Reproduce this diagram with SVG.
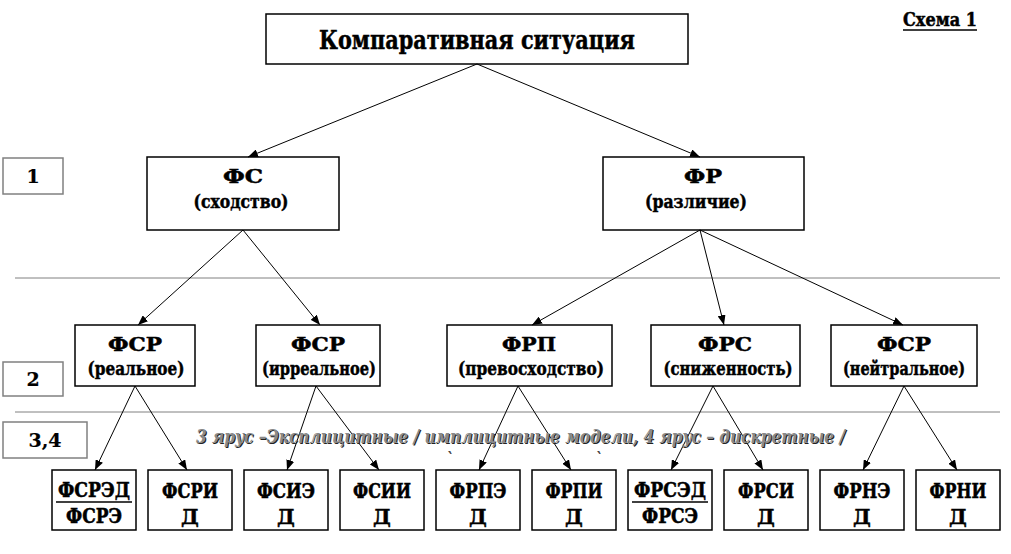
<svg xmlns="http://www.w3.org/2000/svg" width="1011" height="554" viewBox="0 0 1011 554">
<defs>
<marker id="arr" markerUnits="userSpaceOnUse" markerWidth="10" markerHeight="8" refX="10" refY="4" orient="auto">
<path d="M0,0 L10,4 L0,8 z" fill="#000"/>
</marker>
<style>
.box{fill:#fff;stroke:#000;stroke-width:1.5}
.lbl{fill:#fff;stroke:#808080;stroke-width:1.5}
.sep{stroke:#808080;stroke-width:1}
.t{font-family:'DejaVu Serif','Liberation Serif',serif;font-weight:bold;fill:#000;stroke:#000;stroke-width:0.5;text-anchor:middle}
.t18{font-size:19px}
.t20{font-size:20px}
.con line{stroke:#000;stroke-width:1;marker-end:url(#arr)}
.it{font-family:'DejaVu Serif','Liberation Serif',serif;font-weight:bold;font-style:italic;font-size:18px}
</style>
</defs>
<rect width="1011" height="554" fill="#fff"/>
<line class="sep" x1="15" y1="278" x2="1000" y2="278"/>
<line class="sep" x1="15" y1="412" x2="1000" y2="412"/>

<g id="scheme-label">
<text x="940" y="26" class="t" style="font-size:18px" textLength="74" lengthAdjust="spacingAndGlyphs">Схема 1</text>
<line x1="903" y1="30" x2="977" y2="30" stroke="#000" stroke-width="1.5"/>
</g>

<g id="tier1"><rect class="lbl" x="3" y="158" width="60" height="36"/><text x="33" y="183" class="t t18" style="stroke-width:0.2">1</text></g>
<g id="tier2"><rect class="lbl" x="3" y="362" width="60" height="34"/><text x="33" y="386" class="t t18" style="stroke-width:0.2">2</text></g>
<g id="tier34"><rect class="lbl" x="3" y="422" width="84" height="36"/><text x="45" y="447" class="t t18" style="stroke-width:0.2">3,4</text></g>

<g id="root"><rect class="box" x="266" y="14" width="422" height="50"/><text x="477" y="49" class="t" style="font-size:26px" textLength="316" lengthAdjust="spacingAndGlyphs">Компаративная ситуация</text></g>

<g id="fs"><rect class="box" x="147" y="157" width="192" height="73"/><text x="243" y="183" class="t t18" textLength="40" lengthAdjust="spacingAndGlyphs">ФС</text><text x="241" y="208" class="t t18" textLength="95" lengthAdjust="spacingAndGlyphs">(сходство)</text></g>
<g id="fr"><rect class="box" x="603" y="157" width="201" height="73"/><text x="703" y="183" class="t t18" textLength="38" lengthAdjust="spacingAndGlyphs">ФР</text><text x="696" y="208" class="t t18" textLength="102" lengthAdjust="spacingAndGlyphs">(различие)</text></g>

<g id="fsr-real"><rect class="box" x="75" y="325" width="120" height="61"/><text x="135" y="351" class="t t18" textLength="54" lengthAdjust="spacingAndGlyphs">ФСР</text><text x="136" y="375" class="t t18" textLength="97" lengthAdjust="spacingAndGlyphs">(реальное)</text></g>
<g id="fsr-irreal"><rect class="box" x="256" y="325" width="124" height="61"/><text x="318" y="351" class="t t18" textLength="54" lengthAdjust="spacingAndGlyphs">ФСР</text><text x="319" y="375" class="t t18" textLength="114" lengthAdjust="spacingAndGlyphs">(ирреальное)</text></g>
<g id="frp"><rect class="box" x="447" y="325" width="165" height="61"/><text x="529" y="351" class="t t18" textLength="54" lengthAdjust="spacingAndGlyphs">ФРП</text><text x="531" y="375" class="t t18" textLength="146" lengthAdjust="spacingAndGlyphs">(превосходство)</text></g>
<g id="frs"><rect class="box" x="651" y="325" width="149" height="61"/><text x="725" y="351" class="t t18" textLength="54" lengthAdjust="spacingAndGlyphs">ФРС</text><text x="728" y="375" class="t t18" textLength="129" lengthAdjust="spacingAndGlyphs">(сниженность)</text></g>
<g id="fsr-neutral"><rect class="box" x="831" y="325" width="146" height="61"/><text x="904" y="351" class="t t18" textLength="54" lengthAdjust="spacingAndGlyphs">ФСР</text><text x="904" y="375" class="t t18" textLength="122" lengthAdjust="spacingAndGlyphs">(нейтральное)</text></g>

<g id="fsred"><rect class="box" x="52" y="470" width="84" height="60"/><text x="94" y="497" class="t t20" textLength="72" lengthAdjust="spacingAndGlyphs">ФСРЭД</text><line x1="56" y1="502" x2="132" y2="502" stroke="#000" stroke-width="1.5"/><text x="94" y="523" class="t t20" textLength="56" lengthAdjust="spacingAndGlyphs">ФСРЭ</text></g>
<g id="fsrid"><rect class="box" x="148" y="470" width="84" height="60"/><text x="190" y="498" class="t t20" textLength="56" lengthAdjust="spacingAndGlyphs">ФСРИ</text><text x="190" y="524" class="t t20">Д</text></g>
<g id="fsied"><rect class="box" x="244" y="470" width="84" height="60"/><text x="286" y="498" class="t t20" textLength="58" lengthAdjust="spacingAndGlyphs">ФСИЭ</text><text x="286" y="524" class="t t20">Д</text></g>
<g id="fsiid"><rect class="box" x="340" y="470" width="84" height="60"/><text x="382" y="498" class="t t20" textLength="58" lengthAdjust="spacingAndGlyphs">ФСИИ</text><text x="382" y="524" class="t t20">Д</text></g>
<g id="frped"><rect class="box" x="436" y="470" width="84" height="60"/><text x="478" y="498" class="t t20" textLength="57" lengthAdjust="spacingAndGlyphs">ФРПЭ</text><text x="478" y="524" class="t t20">Д</text></g>
<g id="frpid"><rect class="box" x="532" y="470" width="84" height="60"/><text x="574" y="498" class="t t20" textLength="57" lengthAdjust="spacingAndGlyphs">ФРПИ</text><text x="574" y="524" class="t t20">Д</text></g>
<g id="frsed"><rect class="box" x="628" y="470" width="84" height="60"/><text x="670" y="497" class="t t20" textLength="72" lengthAdjust="spacingAndGlyphs">ФРСЭД</text><line x1="632" y1="502" x2="708" y2="502" stroke="#000" stroke-width="1.5"/><text x="670" y="523" class="t t20" textLength="56" lengthAdjust="spacingAndGlyphs">ФРСЭ</text></g>
<g id="frsid"><rect class="box" x="724" y="470" width="84" height="60"/><text x="766" y="498" class="t t20" textLength="56" lengthAdjust="spacingAndGlyphs">ФРСИ</text><text x="766" y="524" class="t t20">Д</text></g>
<g id="frned"><rect class="box" x="820" y="470" width="84" height="60"/><text x="862" y="498" class="t t20" textLength="57" lengthAdjust="spacingAndGlyphs">ФРНЭ</text><text x="862" y="524" class="t t20">Д</text></g>
<g id="frnid"><rect class="box" x="916" y="470" width="84" height="60"/><text x="958" y="498" class="t t20" textLength="57" lengthAdjust="spacingAndGlyphs">ФРНИ</text><text x="958" y="524" class="t t20">Д</text></g>

<g id="connectors" class="con">
<line x1="477" y1="64" x2="248" y2="157"/>
<line x1="477" y1="64" x2="700" y2="157"/>
<line x1="243" y1="230" x2="138" y2="325"/>
<line x1="243" y1="230" x2="320" y2="325"/>
<line x1="700" y1="230" x2="532" y2="325"/>
<line x1="700" y1="230" x2="724" y2="325"/>
<line x1="700" y1="230" x2="903" y2="325"/>
<line x1="135" y1="386" x2="95" y2="470"/>
<line x1="135" y1="386" x2="187" y2="470"/>
<line x1="316" y1="386" x2="287" y2="470"/>
<line x1="316" y1="386" x2="379" y2="470"/>
<line x1="518" y1="386" x2="479" y2="470"/>
<line x1="518" y1="386" x2="571" y2="470"/>
<line x1="713" y1="386" x2="671" y2="470"/>
<line x1="713" y1="386" x2="763" y2="470"/>
<line x1="904" y1="386" x2="863" y2="470"/>
<line x1="904" y1="386" x2="957" y2="470"/>
</g>

<g id="note">
<text x="197" y="444" class="it" fill="#222" textLength="649" lengthAdjust="spacingAndGlyphs">3 ярус –Эксплицитные / имплицитные модели, 4 ярус – дискретные /</text>
<text x="196" y="443" class="it" fill="#8a8a8a" textLength="649" lengthAdjust="spacingAndGlyphs">3 ярус –Эксплицитные / имплицитные модели, 4 ярус – дискретные /</text>
<text x="446" y="464" class="it" fill="#444" style="font-size:16px">`</text>
<text x="595" y="464" class="it" fill="#444" style="font-size:16px">`</text>
</g>
</svg>
